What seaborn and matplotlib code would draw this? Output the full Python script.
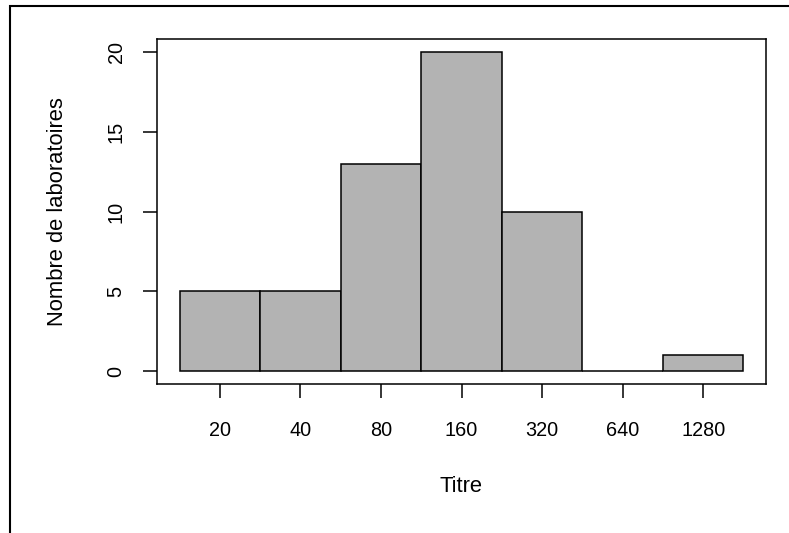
import matplotlib.pyplot as plt
import matplotlib.patches as mpatches
import seaborn as sns

# Distribution des titres
titres = ['20', '40', '80', '160', '320', '640', '1280']
nb_labos = [5, 5, 13, 20, 10, 0, 1]

plt.rcParams['font.family'] = ['Liberation Sans', 'DejaVu Sans']

fig = plt.figure(figsize=(7.89, 5.33), dpi=100)
ax = fig.add_axes([157 / 789, 1 - 384 / 533, (766 - 157) / 789, (384 - 39) / 533])

sns.barplot(x=titres, y=nb_labos, color='#b3b3b3', saturation=1,
            edgecolor='black', linewidth=1.1, width=1, ax=ax)

ax.set_xlim(-0.78, 6.78)
ax.set_ylim(-0.8, 20.8)
ax.set_yticks([0, 5, 10, 15, 20])
for s in ax.spines.values():
    s.set_linewidth(1.1)
ax.tick_params(axis='both', direction='out', length=10, width=1.1,
               labelsize=14.3)
ax.tick_params(axis='x', pad=17)
ax.tick_params(axis='y', pad=12.5)
for lab in ax.get_yticklabels():
    lab.set_rotation(90)
    lab.set_va('center')

ax.set_xlabel('Titre', fontsize=15.8, va='center')
ax.set_ylabel('Nombre de laboratoires', fontsize=15.8, va='center')
ax.xaxis.set_label_coords(0.5, (384 - 487) / 345)
ax.yaxis.set_label_coords((58 - 157) / 609, 0.5)

# cadre extérieur (partiellement visible)
fig.add_artist(mpatches.Rectangle((10 / 789, -0.2), 1.5, 1.2 - 6 / 533,
                                  transform=fig.transFigure, fill=False,
                                  lw=1.5, edgecolor='black'))

fig.savefig('out.png', dpi=100)
